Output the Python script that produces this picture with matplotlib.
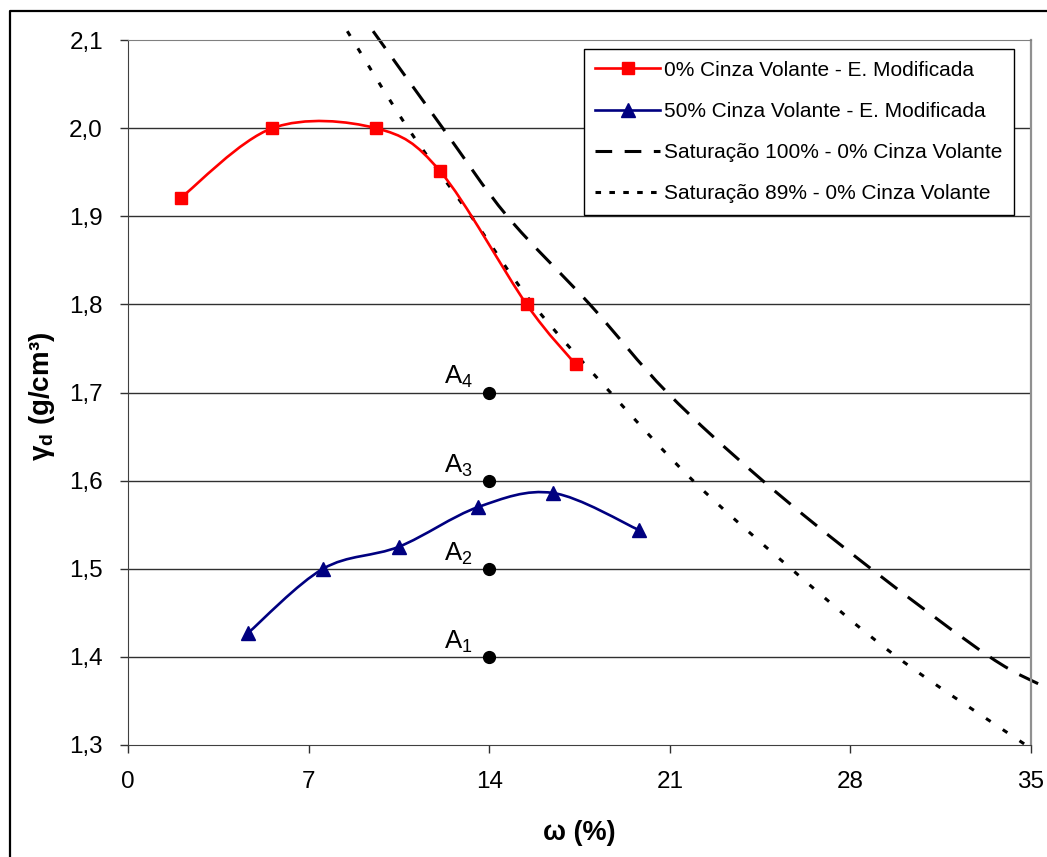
import numpy as np
from matplotlib import pyplot as plt
from matplotlib.path import Path
from matplotlib.patches import PathPatch
from matplotlib.lines import Line2D

plt.rcParams['font.family'] = ['Liberation Sans', 'DejaVu Sans']
plt.rcParams['mathtext.fontset'] = 'custom'
plt.rcParams['mathtext.rm'] = 'Liberation Sans'
plt.rcParams['mathtext.bf'] = 'Liberation Sans:bold'
plt.rcParams['lines.scale_dashes'] = False

# dados
w_0 = [2.05, 5.6, 9.6, 12.1, 15.45, 17.35]
gd_0 = [1.921, 2.0, 2.0, 1.951, 1.80, 1.732]

w_50 = [4.65, 7.56, 10.5, 13.57, 16.47, 19.8]
gd_50 = [1.427, 1.50, 1.525, 1.570, 1.586, 1.544]

w_sat100 = [9.5, 12.2, 14.7, 17.9, 20.9, 24.6, 28.8, 33.4, 35.6]
gd_sat100 = [2.11, 2.0, 1.9, 1.8, 1.7, 1.6, 1.5, 1.4, 1.365]

w_sat89 = [8.5, 10.85, 13.3, 15.7, 18.7, 21.9, 25.7, 29.8, 34.8]
gd_sat89 = [2.11, 2.0, 1.9, 1.8, 1.7, 1.6, 1.5, 1.4, 1.3]

pontos_w = [14, 14, 14, 14]
pontos_gd = [1.4, 1.5, 1.6, 1.7]
pontos_nomes = ['A$_\\mathregular{1}$', 'A$_\\mathregular{2}$', 'A$_\\mathregular{3}$', 'A$_\\mathregular{4}$']

x_ticks = [0, 7, 14, 21, 28, 35]
y_ticks = [1.3, 1.4, 1.5, 1.6, 1.7, 1.8, 1.9, 2.0, 2.1]

nomes = ['0% Cinza Volante - E. Modificada',
         '50% Cinza Volante - E. Modificada',
         'Saturação 100% - 0% Cinza Volante',
         'Saturação 89% - 0% Cinza Volante']


# linha suavizada tipo excel (bezier pelos pontos)
def linha_suave(x, y):
    pts = np.column_stack([x, y])
    n = len(pts)
    verts = [pts[0]]
    codes = [Path.MOVETO]
    for i in range(n - 1):
        p0 = pts[max(i - 1, 0)]
        p1 = pts[i]
        p2 = pts[i + 1]
        p3 = pts[min(i + 2, n - 1)]
        verts += [p1 + (p2 - p0) / 6, p2 - (p3 - p1) / 6, p2]
        codes += [Path.CURVE4] * 3
    return Path(verts, codes)


fig = plt.figure(figsize=(10.47, 8.57), dpi=100)
ax = fig.add_axes([128 / 1047, 1 - 745 / 857, 903 / 1047, 705 / 857])

ax.set_xlim(0, 35)
ax.set_ylim(1.3, 2.1)

for yv in y_ticks[1:-1]:
    ax.axhline(yv, color='#303030', lw=1, zorder=1)

vermelho = '#ff0000'
azul = '#000080'

ax.add_patch(PathPatch(linha_suave(w_0, gd_0), fill=False, ec=vermelho, lw=1.9, zorder=3))
ax.plot(w_0, gd_0, ls='none', marker='s', ms=9, color=vermelho, zorder=4)

ax.add_patch(PathPatch(linha_suave(w_50, gd_50), fill=False, ec=azul, lw=1.9, zorder=3))
ax.plot(w_50, gd_50, ls='none', marker='^', ms=10, color=azul, zorder=4)

tracejado = (0, (15, 9.5))
pontilhado = (0, (4, 10.5))
ax.add_patch(PathPatch(linha_suave(w_sat100, gd_sat100), fill=False, ec='black', lw=2.2,
                       ls=tracejado, zorder=2, clip_on=False))
ax.add_patch(PathPatch(linha_suave(w_sat89, gd_sat89), fill=False, ec='black', lw=2.2,
                       ls=pontilhado, zorder=2, clip_on=False))

ax.plot(pontos_w, pontos_gd, ls='none', marker='o', ms=8.5, color='black', zorder=4)
for xi, yi, nome in zip(pontos_w, pontos_gd, pontos_nomes):
    ax.annotate(nome, (xi, yi), xytext=(-22, 11), textcoords='offset points',
                ha='center', va='center', fontsize=18.5)

ax.set_xticks(x_ticks)
ax.set_yticks(y_ticks)
ax.set_yticklabels([('%.1f' % v).replace('.', ',') for v in y_ticks])
ax.tick_params(direction='out', length=6, width=1, color='#303030', labelsize=17.5)
ax.tick_params(axis='y', pad=12)
ax.tick_params(axis='x', pad=13)

ax.spines['left'].set_color('#404040')
ax.spines['bottom'].set_color('#404040')
ax.spines['top'].set_color('#808080')
ax.spines['right'].set_color('#909090')
ax.spines['right'].set_linewidth(1.6)

ax.set_xlabel('ω (%)', fontsize=19.5, fontweight='bold', va='center')
ax.xaxis.set_label_coords(0.5, -0.125)
ax.set_ylabel('γ$_\\mathbf{d}$ (g/cm³)', fontsize=20, fontweight='bold', va='center')
ax.yaxis.set_label_coords(-0.095, 0.494)

handles = [
    Line2D([], [], color=vermelho, lw=1.9, marker='s', ms=9),
    Line2D([], [], color=azul, lw=1.9, marker='^', ms=10),
    Line2D([], [], color='black', lw=2.2, ls=(0, (12, 9))),
    Line2D([], [], color='black', lw=2.2, ls=(0, (4, 6))),
]
leg = ax.legend(handles, nomes, loc='upper right', bbox_to_anchor=(0.981, 0.987),
                borderaxespad=0, fontsize=15, handlelength=3.1, handletextpad=0.2,
                labelspacing=1.07, fancybox=False, framealpha=1, edgecolor='black',
                borderpad=0.55)
leg.get_frame().set_linewidth(1)

# moldura externa
fig.add_artist(Line2D([10 / 1047, 10 / 1047, 1], [0, 1 - 11 / 857, 1 - 11 / 857],
                      color='black', lw=1.6, transform=fig.transFigure))

fig.savefig('out.png', dpi=100)
